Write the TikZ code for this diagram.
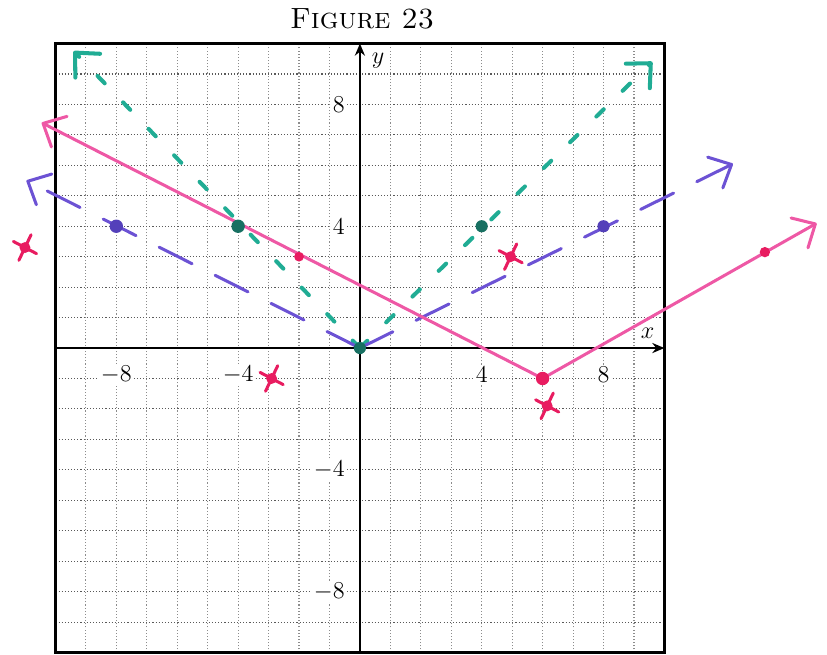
\documentclass[tikz,border=0pt]{standalone}
\usepackage{tikz}
\usetikzlibrary{arrows.meta, positioning, calc}
\definecolor{GraphPink}{RGB}{238, 88, 165}
\definecolor{DotPink}{RGB}{232, 28, 96}
\definecolor{GraphPurple}{RGB}{108, 82, 212}
\definecolor{DotPurple}{RGB}{84, 64, 186}
\definecolor{GraphTeal}{RGB}{32, 172, 148}
\definecolor{DotTeal}{RGB}{24, 112, 98}

\tikzset{
  gridline/.style={black!45, densely dotted, line width=0.55pt},
  penline/.style={line width=1.5pt, line cap=round},
  barb/.style={-{Straight Barb[length=9pt, width=17pt, round]}},
  ticklabel/.style={fill=white, inner sep=1pt, font=\fontsize{11.5}{13}\selectfont},
  axisarrow/.style={-{Stealth[length=6pt, width=5pt]}, line width=1.3pt},
}

\begin{document}
\begin{tikzpicture}[x=5.3mm,y=5.3mm]
  \path[use as bounding box] (-11.82,-10.08) rectangle (15.34,11.43);
  \node (title) at (0.07,10.8) {\fontsize{14.5}{16}\selectfont\textsc{Figure 23}};

  \foreach \k in {-9,...,9}{
    \draw[gridline] (\k,-10) -- (\k,10);
    \draw[gridline, black!65] (-10,\k) -- (10,\k);
  }
  \draw[line width=1.1pt] (-10,-10) rectangle (10,10);
  \draw[axisarrow] (0,-10) -- (0,10);
  \draw[axisarrow] (-10,0) -- (10,0);
  \node[font=\fontsize{12}{13}\selectfont] (ylab) at (0.6,9.45) {$y$};
  \node[font=\fontsize{12}{13}\selectfont] (xlab) at (9.45,0.5) {$x$};

  \foreach \v [count=\i] in {-8,-4,4,8}{
    \node[ticklabel] (xt\i) at (\v,-0.88) {$\v$};
    \node[ticklabel, anchor=east] (yt\i) at (-0.42,\v) {$\v$};
  }

  \coordinate (tealV) at (0,0);
  \coordinate (tealL) at (-9.4,9.75);
  \coordinate (tealR) at (9.6,9.4);
  \draw[GraphTeal, penline, line width=2pt, dash pattern=on 1.8mm off 4.6mm, barb] (tealV) -- (tealL);
  \draw[GraphTeal, penline, line width=2pt, dash pattern=on 1.8mm off 4.6mm, barb] (tealV) -- (tealR);

  \coordinate (purpV) at (0,0);
  \coordinate (purpL) at (-10.95,5.5);
  \coordinate (purpR) at (12.25,6.05);
  \draw[GraphPurple, penline, dash pattern=on 6.4mm off 4.5mm, barb] (purpV) -- (purpL);
  \draw[GraphPurple, penline, dash pattern=on 6.4mm off 4.5mm, barb] (purpV) -- (purpR);

  \coordinate (pinkV) at (6,-1);
  \coordinate (pinkL) at (-10.45,7.4);
  \coordinate (pinkR) at (15,4.1);
  \draw[GraphPink, penline, barb] (pinkV) -- (pinkL);
  \draw[GraphPink, penline, barb] (pinkV) -- (pinkR);

  \foreach \c/\x/\y/\r in {DotPink/-2/3/0.16, DotPink/6/-1/0.22, DotPink/13.3/3.15/0.17,
      DotPurple/-8/4/0.22, DotPurple/8/4/0.2, DotTeal/-4/4/0.22, DotTeal/4/4/0.2, DotTeal/0/0/0.2}
    \fill[\c] (\x,\y) circle (\r);

  \foreach \x/\y in {-11/3.3, -2.9/-1, 4.95/3, 6.15/-1.9}{
    \fill[DotPink] (\x,\y) circle (0.18);
    \draw[DotPink, penline] (\x-0.38,\y+0.2) -- (\x+0.38,\y-0.2);
    \draw[DotPink, penline] (\x-0.2,\y-0.42) -- (\x+0.2,\y+0.42);
  }
\end{tikzpicture}
\end{document}
